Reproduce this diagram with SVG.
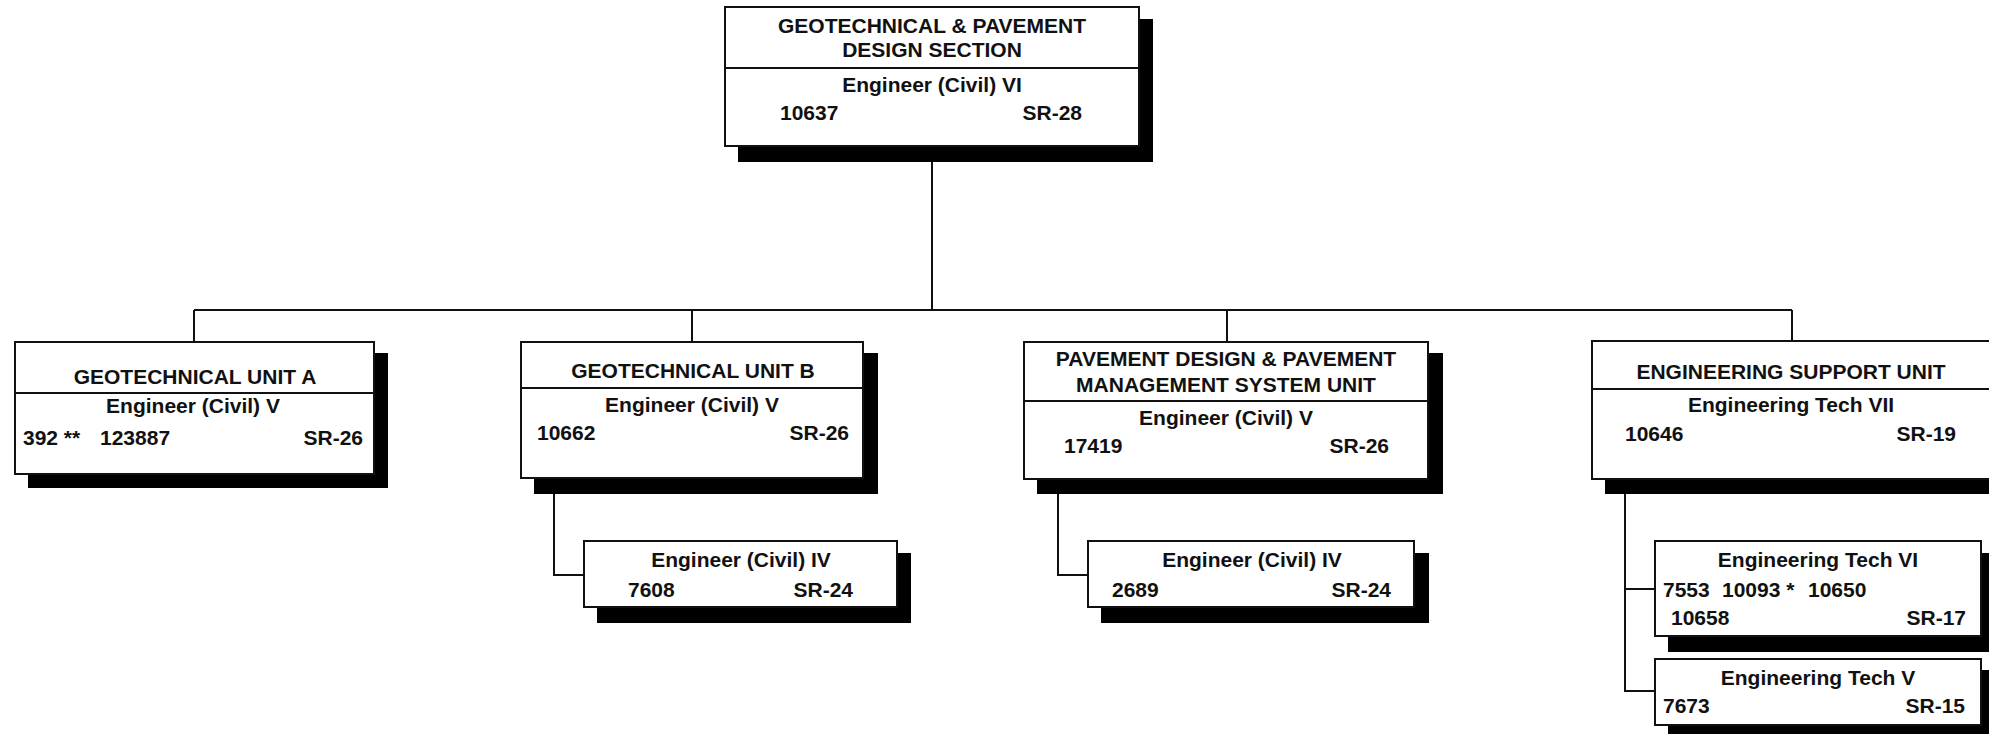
<svg xmlns="http://www.w3.org/2000/svg" width="1989" height="734" viewBox="0 0 1989 734">
<style>
.box{fill:#fff;stroke:#111;stroke-width:2}
.sh{fill:#000}
.div{stroke:#111;stroke-width:2}
.ln{stroke:#111;stroke-width:2;fill:none}
text{font-family:"Liberation Sans",Arial,sans-serif;font-weight:bold;font-size:21px;fill:#111}
.c{text-anchor:middle}
.r{text-anchor:end}
</style>
<rect width="1989" height="734" fill="#fff"/>
<g id="connectors">
<path class="ln" d="M932 146V310M194 310H1792M194 310V342M692 310V342M1227 310V342M1792 310V341"/>
<path class="ln" d="M554 478V575H584"/>
<path class="ln" d="M1058 479V575H1088"/>
<path class="ln" d="M1625 479V691H1655M1625 589H1655"/>
</g>
<g id="top">
<rect class="sh" x="738" y="19" width="415" height="143"/>
<rect class="box" x="725" y="7" width="414" height="139"/>
<line class="div" x1="725" y1="68" x2="1139" y2="68"/>
<text class="c" x="932" y="33">GEOTECHNICAL &amp; PAVEMENT</text>
<text class="c" x="932" y="57">DESIGN SECTION</text>
<text class="c" x="932" y="92">Engineer (Civil) VI</text>
<text x="780" y="120">10637</text>
<text class="r" x="1082" y="120">SR-28</text>
</g>
<g id="unitA">
<rect class="sh" x="28" y="353" width="360" height="135"/>
<rect class="box" x="15" y="342" width="359" height="132"/>
<line class="div" x1="15" y1="393" x2="374" y2="393"/>
<text class="c" x="195" y="384">GEOTECHNICAL UNIT A</text>
<text class="c" x="193" y="413">Engineer (Civil) V</text>
<text x="23" y="445">392 **</text>
<text x="100" y="445">123887</text>
<text class="r" x="363" y="445">SR-26</text>
</g>
<g id="unitB">
<rect class="sh" x="534" y="353" width="344" height="141"/>
<rect class="box" x="521" y="342" width="342" height="136"/>
<line class="div" x1="521" y1="388" x2="863" y2="388"/>
<text class="c" x="693" y="378">GEOTECHNICAL UNIT B</text>
<text class="c" x="692" y="412">Engineer (Civil) V</text>
<text x="537" y="440">10662</text>
<text class="r" x="849" y="440">SR-26</text>
</g>
<g id="unitB-eng4">
<rect class="sh" x="597" y="553" width="314" height="70"/>
<rect class="box" x="584" y="541" width="313" height="66"/>
<text class="c" x="741" y="567">Engineer (Civil) IV</text>
<text x="628" y="597">7608</text>
<text class="r" x="853" y="597">SR-24</text>
</g>
<g id="unitC">
<rect class="sh" x="1037" y="353" width="406" height="141"/>
<rect class="box" x="1024" y="342" width="404" height="137"/>
<line class="div" x1="1024" y1="401" x2="1428" y2="401"/>
<text class="c" x="1226" y="366">PAVEMENT DESIGN &amp; PAVEMENT</text>
<text class="c" x="1226" y="392">MANAGEMENT SYSTEM UNIT</text>
<text class="c" x="1226" y="425">Engineer (Civil) V</text>
<text x="1064" y="453">17419</text>
<text class="r" x="1389" y="453">SR-26</text>
</g>
<g id="unitC-eng4">
<rect class="sh" x="1101" y="553" width="328" height="70"/>
<rect class="box" x="1088" y="541" width="326" height="66"/>
<text class="c" x="1252" y="567">Engineer (Civil) IV</text>
<text x="1112" y="597">2689</text>
<text class="r" x="1391" y="597">SR-24</text>
</g>
<g id="unitD">
<rect class="sh" x="1605" y="353" width="420" height="141"/>
<rect class="box" x="1592" y="341" width="410" height="138"/>
<line class="div" x1="1592" y1="389" x2="2002" y2="389"/>
<text class="c" x="1791" y="379">ENGINEERING SUPPORT UNIT</text>
<text class="c" x="1791" y="412">Engineering Tech VII</text>
<text x="1625" y="441">10646</text>
<text class="r" x="1956" y="441">SR-19</text>
</g>
<g id="unitD-tech6">
<rect class="sh" x="1668" y="553" width="328" height="99"/>
<rect class="box" x="1655" y="541" width="326" height="95"/>
<text class="c" x="1818" y="567">Engineering Tech VI</text>
<text y="597"><tspan x="1663">7553</tspan><tspan x="1722">10093 *</tspan><tspan x="1808">10650</tspan></text>
<text x="1671" y="625">10658</text>
<text class="r" x="1966" y="625">SR-17</text>
</g>
<g id="unitD-tech5">
<rect class="sh" x="1668" y="670" width="328" height="70"/>
<rect class="box" x="1655" y="659" width="326" height="66"/>
<text class="c" x="1818" y="685">Engineering Tech V</text>
<text x="1663" y="713">7673</text>
<text class="r" x="1965" y="713">SR-15</text>
</g>
</svg>
